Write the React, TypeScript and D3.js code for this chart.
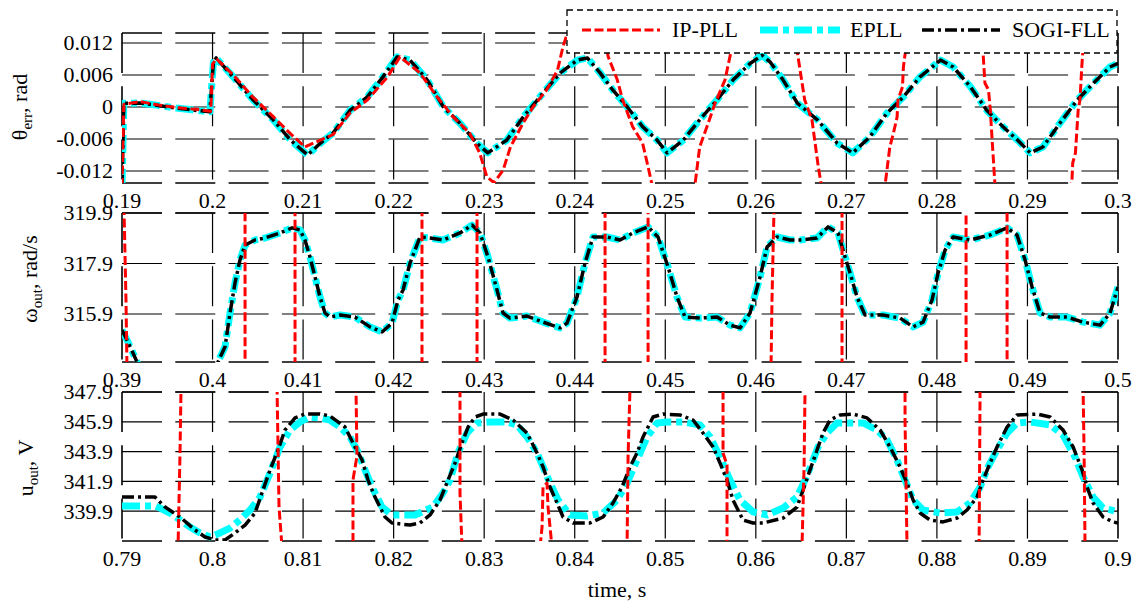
import React, { useEffect, useRef } from 'react';
import * as d3 from 'd3';

type Pt = [number, number];

const W = 1135;
const H = 606;
const FONT = "'Liberation Serif', 'DejaVu Serif', serif";

// ---- panel 1: phase error, rad (t = 0.19 .. 0.3 s)
const xTicks1 = [0.19, 0.2, 0.21, 0.22, 0.23, 0.24, 0.25, 0.26, 0.27, 0.28, 0.29, 0.3];
const xLabels1 = ['0.19', '0.2', '0.21', '0.22', '0.23', '0.24', '0.25', '0.26', '0.27', '0.28', '0.29', '0.3'];
const yTicks1 = [-0.012, -0.006, 0, 0.006, 0.012];
const yLabels1 = ['-0.012', '-0.006', '0', '0.006', '0.012'];

const epllTheta: Pt[] = [
  [0.19, -0.015], [0.1902, 0.0007], [0.192, 0.00075], [0.194, 0.0003], [0.196, -0.0002], [0.198, -0.0006],
  [0.1997, -0.0009], [0.19995, 0.005], [0.2001, 0.0084], [0.2004, 0.0092], [0.2023, 0.0056], [0.2045, 0.0013],
  [0.2067, -0.0024], [0.2086, -0.0062], [0.2105, -0.009], [0.2119, -0.0068], [0.2133, -0.0049], [0.2152, -0.0006],
  [0.2171, 0.0019], [0.2188, 0.0056], [0.2204, 0.0094], [0.2218, 0.0088], [0.2237, 0.0051], [0.2255, 0.0],
  [0.2273, -0.003], [0.2292, -0.0068], [0.2304, -0.0086], [0.2325, -0.0062], [0.2343, -0.0019], [0.2365, 0.0026],
  [0.2384, 0.0064], [0.2403, 0.0088], [0.2414, 0.0092], [0.2428, 0.0064], [0.2442, 0.0032], [0.2458, 0.0],
  [0.2475, -0.0037], [0.2491, -0.0062], [0.2502, -0.0086], [0.252, -0.0062], [0.2538, -0.0024], [0.2557, 0.0013],
  [0.2575, 0.0051], [0.2594, 0.0082], [0.2607, 0.0097], [0.2616, 0.0084], [0.263, 0.0051], [0.2646, 0.0007],
  [0.2668, -0.0024], [0.269, -0.0068], [0.2707, -0.0086], [0.2726, -0.0056], [0.2745, -0.0011], [0.2763, 0.0019],
  [0.2781, 0.0056], [0.2804, 0.0088], [0.2818, 0.0075], [0.2837, 0.0038], [0.2855, -0.0006], [0.2873, -0.0037],
  [0.2889, -0.0062], [0.2903, -0.0086], [0.2917, -0.0075], [0.2936, -0.003], [0.2955, 0.0013], [0.2973, 0.0045],
  [0.2991, 0.0075], [0.3, 0.0082],
];
// SOGI-FLL sits on top of the EPLL trace in this panel
const sogiTheta: Pt[] = epllTheta;

const ipTheta: Pt[] = [
  [0.19, -0.015], [0.1902, 0.0005], [0.192, 0.001], [0.194, 0.0004], [0.196, -0.0001], [0.198, -0.0004],
  [0.1998, -0.0008], [0.2, 0.008], [0.2004, 0.0091], [0.2023, 0.006], [0.2045, 0.0018], [0.2067, -0.0018],
  [0.2086, -0.005], [0.2102, -0.0075], [0.2119, -0.0062], [0.2133, -0.0052], [0.2152, -0.0011], [0.2171, 0.0013],
  [0.2193, 0.0056], [0.2207, 0.0094], [0.2229, 0.0064], [0.2248, 0.0019], [0.2266, -0.0019], [0.2284, -0.0049],
  [0.2295, -0.0086], [0.2303, -0.0131], [0.2311, -0.0142], [0.2321, -0.0118], [0.2329, -0.0075], [0.2343, -0.003],
  [0.2354, 0.0], [0.2369, 0.0032], [0.2381, 0.0069], [0.2387, 0.0113], [0.2392, 0.0139], [0.2413, 0.022],
  [0.2432, 0.0139], [0.2437, 0.0094], [0.2447, 0.0051], [0.2453, 0.0013], [0.2464, -0.0037], [0.2475, -0.0068],
  [0.2481, -0.0112], [0.2485, -0.0143], [0.2508, -0.021], [0.2533, -0.0143], [0.2538, -0.0075], [0.2546, -0.0037],
  [0.2555, 0.0007], [0.2566, 0.0051], [0.2573, 0.0107], [0.2576, 0.0139], [0.2611, 0.022], [0.2644, 0.0139],
  [0.2646, 0.0101], [0.2654, 0.0013], [0.2662, -0.0024], [0.2665, -0.0062], [0.2669, -0.0112], [0.2672, -0.0143],
  [0.2707, -0.021], [0.2743, -0.0143], [0.2748, -0.0075], [0.2752, -0.0049], [0.2756, -0.0019], [0.2757, 0.0013],
  [0.2762, 0.0038], [0.2763, 0.0075], [0.2765, 0.0101], [0.2767, 0.0139], [0.2808, 0.022], [0.2849, 0.0139],
  [0.2851, 0.0101], [0.2853, 0.0045], [0.2857, 0.0032], [0.2859, -0.0006], [0.2861, -0.0062], [0.2864, -0.0143],
  [0.2906, -0.021], [0.2949, -0.0143], [0.295, -0.0105], [0.2953, -0.0086], [0.2956, -0.0006], [0.2958, 0.0013],
  [0.296, 0.0075], [0.2961, 0.0101], [0.2963, 0.0139], [0.3, 0.022],
];

// ---- panel 2: output frequency, rad/s (t = 0.39 .. 0.5 s)
const xTicks2 = [0.39, 0.4, 0.41, 0.42, 0.43, 0.44, 0.45, 0.46, 0.47, 0.48, 0.49, 0.5];
const xLabels2 = ['0.39', '0.4', '0.41', '0.42', '0.43', '0.44', '0.45', '0.46', '0.47', '0.48', '0.49', '0.5'];
const yTicks2 = [315.9, 317.9, 319.9];
const yLabels2 = ['315.9', '317.9', '319.9'];

const epllOmega: Pt[] = [
  [0.39, 315.27], [0.39055, 314.87], [0.39121, 314.36], [0.39166, 314.0], [0.39199, 313.6], [0.40038, 313.6],
  [0.4006, 314.0], [0.40138, 314.6], [0.40193, 315.94], [0.40248, 317.13], [0.40303, 318.04], [0.40359, 318.63],
  [0.40469, 318.83], [0.4058, 318.91], [0.40745, 319.11], [0.40878, 319.31], [0.40966, 319.23], [0.41021, 318.83],
  [0.41076, 318.16], [0.41132, 317.37], [0.41187, 316.57], [0.41242, 315.94], [0.41297, 315.78], [0.41408, 315.86],
  [0.41573, 315.78], [0.41739, 315.39], [0.41872, 315.19], [0.41982, 315.54], [0.42048, 316.45], [0.42104, 316.85],
  [0.42181, 317.92], [0.42291, 318.95], [0.42402, 318.91], [0.42545, 318.83], [0.42733, 319.11], [0.42866, 319.42],
  [0.42954, 319.11], [0.43042, 318.16], [0.43142, 316.85], [0.43208, 315.94], [0.43285, 315.74], [0.43473, 315.82],
  [0.4365, 315.58], [0.43838, 315.35], [0.43915, 315.54], [0.44025, 316.57], [0.44114, 317.92], [0.44202, 318.95],
  [0.44357, 318.95], [0.445, 318.83], [0.44644, 319.11], [0.4481, 319.35], [0.4492, 318.95], [0.45031, 317.76],
  [0.4513, 316.57], [0.45218, 315.78], [0.45384, 315.74], [0.45572, 315.78], [0.45715, 315.46], [0.45826, 315.35],
  [0.45936, 315.94], [0.46047, 317.37], [0.46124, 318.55], [0.46234, 318.95], [0.46378, 318.83], [0.46489, 318.83],
  [0.46676, 318.91], [0.46798, 319.35], [0.46908, 319.11], [0.46986, 318.16], [0.47041, 317.52], [0.47118, 316.57],
  [0.47206, 315.86], [0.47405, 315.86], [0.47593, 315.74], [0.47737, 315.39], [0.47847, 315.58], [0.47946, 316.45],
  [0.48013, 317.52], [0.4809, 318.43], [0.48178, 318.95], [0.48366, 318.83], [0.48587, 319.03], [0.48775, 319.31],
  [0.48885, 319.03], [0.48974, 318.04], [0.49051, 316.97], [0.4914, 315.94], [0.4925, 315.78], [0.49437, 315.78],
  [0.49614, 315.58], [0.49802, 315.46], [0.49912, 315.94], [0.5, 316.97],
];
const sogiOmega: Pt[] = epllOmega;

// IP-PLL swings far outside the window: only its near-vertical crossings show
const ipOmega: Pt[] = [
  [0.39, 320.1], [0.39022, 320.1], [0.39044, 316.45], [0.39055, 313.8], [0.40359, 313.8], [0.40359, 320.1],
  [0.40911, 320.1], [0.40911, 313.8], [0.42313, 313.8], [0.42313, 320.1], [0.42921, 320.1], [0.42921, 313.8],
  [0.44335, 313.8], [0.44335, 320.1], [0.4481, 320.1], [0.4481, 313.8], [0.46168, 313.8], [0.46179, 316.5],
  [0.46201, 320.1], [0.46952, 320.1], [0.46952, 313.8], [0.48322, 313.8], [0.48322, 320.1], [0.48775, 320.1],
  [0.48775, 313.8], [0.5, 313.8],
];

// ---- panel 3: output voltage, V (t = 0.79 .. 0.9 s)
const xTicks3 = [0.79, 0.8, 0.81, 0.82, 0.83, 0.84, 0.85, 0.86, 0.87, 0.88, 0.89, 0.9];
const xLabels3 = ['0.79', '0.8', '0.81', '0.82', '0.83', '0.84', '0.85', '0.86', '0.87', '0.88', '0.89', '0.9'];
const yTicks3 = [339.9, 341.9, 343.9, 345.9, 347.9];
const yLabels3 = ['339.9', '341.9', '343.9', '345.9', '347.9'];

const epllU: Pt[] = [
  [0.79, 340.25], [0.79364, 340.25], [0.7942, 340.11], [0.7953, 339.78], [0.79641, 339.31], [0.79751, 338.84],
  [0.79862, 338.44], [0.79972, 338.17], [0.80082, 338.44], [0.80193, 338.77], [0.80303, 339.31], [0.80414, 339.98],
  [0.80524, 340.85], [0.80635, 342.46], [0.8069, 343.34], [0.80745, 344.21], [0.80856, 345.35], [0.80966, 345.89],
  [0.81076, 346.22], [0.81187, 346.16], [0.81297, 346.02], [0.81408, 345.55], [0.81518, 344.88], [0.81596, 344.01],
  [0.81684, 342.67], [0.81761, 341.52], [0.81872, 340.18], [0.81982, 339.65], [0.82236, 339.65], [0.82435, 340.18],
  [0.82545, 341.12], [0.82623, 341.99], [0.82711, 343.81], [0.8281, 345.15], [0.82921, 345.82], [0.83065, 345.89],
  [0.83252, 345.89], [0.83363, 345.69], [0.83473, 344.88], [0.83584, 343.81], [0.8365, 342.87], [0.83727, 341.79],
  [0.83816, 340.65], [0.83948, 339.65], [0.84136, 339.58], [0.84313, 339.78], [0.84467, 340.65], [0.84578, 341.79],
  [0.84688, 343.34], [0.84799, 344.88], [0.84909, 345.82], [0.8502, 345.89], [0.85196, 345.89], [0.85384, 345.69],
  [0.85494, 344.88], [0.85605, 343.54], [0.85715, 341.99], [0.85826, 340.65], [0.85969, 339.85], [0.86124, 339.65],
  [0.86301, 340.11], [0.86455, 340.85], [0.86544, 341.99], [0.86621, 343.13], [0.86687, 344.21], [0.86787, 345.15],
  [0.86897, 345.82], [0.87041, 345.82], [0.87184, 345.82], [0.87339, 345.35], [0.87449, 344.68], [0.8756, 343.34],
  [0.87648, 341.99], [0.87737, 340.65], [0.87847, 339.98], [0.88035, 339.78], [0.88222, 339.85], [0.88366, 340.45],
  [0.88477, 341.52], [0.88565, 342.87], [0.88664, 344.01], [0.88775, 345.15], [0.88885, 345.82], [0.89029, 345.89],
  [0.8925, 345.69], [0.89393, 345.01], [0.89526, 343.54], [0.89614, 342.2], [0.89725, 340.85], [0.89835, 340.11],
  [0.9, 339.85],
];

const sogiU: Pt[] = [
  [0.79, 340.85], [0.79364, 340.85], [0.79475, 340.18], [0.79641, 339.51], [0.79806, 338.64], [0.79917, 338.17],
  [0.80027, 337.97], [0.80138, 337.97], [0.80248, 338.44], [0.80359, 338.97], [0.80469, 339.78], [0.80557, 341.32],
  [0.80635, 342.67], [0.80723, 344.01], [0.808, 345.35], [0.80911, 346.16], [0.81021, 346.42], [0.81187, 346.42],
  [0.81297, 346.29], [0.81463, 345.55], [0.81573, 344.21], [0.81651, 343.34], [0.81717, 341.99], [0.81794, 340.85],
  [0.81905, 339.51], [0.81982, 339.11], [0.82181, 338.97], [0.82291, 339.11], [0.82402, 339.65], [0.82512, 340.65],
  [0.82601, 341.99], [0.82678, 343.13], [0.82755, 344.48], [0.82822, 345.55], [0.82899, 346.22], [0.82987, 346.42],
  [0.83175, 346.42], [0.83319, 346.02], [0.83473, 345.15], [0.83584, 343.81], [0.8365, 342.87], [0.83727, 341.52],
  [0.83805, 340.45], [0.83871, 339.51], [0.83981, 339.11], [0.84169, 339.11], [0.84313, 339.51], [0.84423, 340.45],
  [0.84522, 341.52], [0.84611, 342.87], [0.84688, 343.81], [0.84754, 344.88], [0.84865, 346.22], [0.84975, 346.42],
  [0.85163, 346.36], [0.85307, 346.02], [0.85417, 345.15], [0.85528, 344.21], [0.85605, 343.13], [0.85682, 341.99],
  [0.85748, 340.65], [0.85859, 339.31], [0.85969, 339.11], [0.8608, 339.11], [0.86301, 339.44], [0.86455, 340.18],
  [0.86522, 341.32], [0.86599, 342.67], [0.86676, 344.01], [0.86742, 345.15], [0.8682, 346.02], [0.8693, 346.36],
  [0.87074, 346.42], [0.87228, 346.16], [0.87372, 345.35], [0.87482, 344.21], [0.87593, 342.87], [0.8767, 341.79],
  [0.87737, 340.65], [0.87814, 339.78], [0.87924, 339.31], [0.88068, 339.18], [0.88222, 339.44], [0.88333, 339.98],
  [0.88443, 340.85], [0.8851, 341.99], [0.88587, 343.13], [0.88664, 344.21], [0.88775, 345.55], [0.88885, 346.36],
  [0.89106, 346.42], [0.8925, 346.22], [0.89393, 345.35], [0.89504, 344.21], [0.89603, 342.67], [0.89658, 341.52],
  [0.89725, 340.45], [0.89835, 339.51], [0.89945, 339.18], [0.9, 339.11],
];

const ipU: Pt[] = [
  [0.79, 337.5], [0.79619, 337.5], [0.79641, 343.9], [0.79652, 348.3], [0.80712, 348.3], [0.80734, 340.2],
  [0.80767, 337.5], [0.81551, 337.5], [0.81551, 342.0], [0.81595, 343.6], [0.81584, 348.3], [0.82733, 348.3],
  [0.82733, 341.1], [0.82755, 337.5], [0.83617, 337.5], [0.83639, 338.84], [0.8365, 341.52], [0.83694, 341.79],
  [0.83705, 340.18], [0.83749, 337.5], [0.84578, 337.5], [0.84589, 343.5], [0.84611, 348.3], [0.85638, 348.3],
  [0.85638, 343.8], [0.85682, 343.0], [0.85682, 337.5], [0.8651, 337.5], [0.86533, 342.9], [0.86544, 348.3],
  [0.87648, 348.3], [0.87648, 346.0], [0.8767, 337.5], [0.88466, 337.5], [0.88477, 348.3], [0.89614, 348.3],
  [0.89625, 344.0], [0.89636, 337.5], [0.9, 337.5],
];

const seriesNames = ['IP-PLL', 'EPLL', 'SOGI-FLL'];

const styles = {
  ip: { color: '#ff0000', width: 3, dash: '9,3.5' },
  epll: { color: '#00ffff', width: 7, dash: '18,5,6,5' },
  sogi: { color: '#000000', width: 3.5, dash: '12,4,3,4' },
};

const panels = [
  {
    xDomain: [0.19, 0.3], yDomain: [-0.01425, 0.013875], top: 33, bottom: 183,
    xTicks: xTicks1, xLabels: xLabels1, yTicks: yTicks1, yLabels: yLabels1,
    ip: ipTheta, epll: epllTheta, sogi: sogiTheta,
    label: ['θ', 'err', ', rad'], labelX: 27, labelY: 107,
  },
  {
    xDomain: [0.39, 0.5], yDomain: [314.0, 319.9], top: 213, bottom: 362,
    xTicks: xTicks2, xLabels: xLabels2, yTicks: yTicks2, yLabels: yLabels2,
    ip: ipOmega, epll: epllOmega, sogi: sogiOmega,
    label: ['ω', 'out', ', rad/s'], labelX: 37, labelY: 279,
  },
  {
    xDomain: [0.79, 0.9], yDomain: [337.9, 347.9], top: 392, bottom: 541,
    xTicks: xTicks3, xLabels: xLabels3, yTicks: yTicks3, yLabels: yLabels3,
    ip: ipU, epll: epllU, sogi: sogiU,
    label: ['u', 'out', ', V'], labelX: 33, labelY: 468,
  },
];

export default function App() {
  const svgRef = useRef<SVGSVGElement>(null);

  useEffect(() => {
    if (!svgRef.current) return;
    const svg = d3.select(svgRef.current);
    svg.selectAll('*').remove();

    svg.append('rect').attr('width', W).attr('height', H).attr('fill', '#fff');
    const defs = svg.append('defs');

    const left = 122;
    const right = 1118;
    const gridDash = '40,13.3';

    panels.forEach((p, i) => {
      const x = d3.scaleLinear().domain(p.xDomain).range([left, right]);
      const y = d3.scaleLinear().domain(p.yDomain).range([p.bottom, p.top]);
      const g = svg.append('g');

      defs.append('clipPath').attr('id', `clip-${i}`)
        .append('rect')
        .attr('x', left).attr('y', p.top)
        .attr('width', right - left).attr('height', p.bottom - p.top);

      // grid (dashed black, matlab style)
      g.selectAll('.hgrid').data(p.yTicks).join('line')
        .attr('x1', left).attr('x2', right)
        .attr('y1', (d) => y(d)).attr('y2', (d) => y(d))
        .attr('stroke', '#000').attr('stroke-width', 1.2)
        .attr('stroke-dasharray', gridDash);
      g.selectAll('.vgrid').data(p.xTicks.slice(1, -1)).join('line')
        .attr('x1', (d) => x(d)).attr('x2', (d) => x(d))
        .attr('y1', p.top).attr('y2', p.bottom)
        .attr('stroke', '#000').attr('stroke-width', 1.2)
        .attr('stroke-dasharray', gridDash);

      // axes box
      const box: [number, number, number, number][] = [
        [left, p.top, right, p.top],
        [left, p.bottom, right, p.bottom],
        [left, p.top, left, p.bottom],
        [right, p.top, right, p.bottom],
      ];
      g.selectAll('.box').data(box).join('line')
        .attr('x1', (d) => d[0]).attr('y1', (d) => d[1])
        .attr('x2', (d) => d[2]).attr('y2', (d) => d[3])
        .attr('stroke', '#000').attr('stroke-width', 1.6)
        .attr('stroke-dasharray', gridDash);

      // traces
      const line = d3.line<Pt>().x((d) => x(d[0])).y((d) => y(d[1]));
      const traces = g.append('g').attr('clip-path', `url(#clip-${i})`);
      (['epll', 'sogi', 'ip'] as const).forEach((k) => {
        const s = styles[k];
        traces.append('path')
          .datum(p[k])
          .attr('d', line)
          .attr('fill', 'none')
          .attr('stroke', s.color)
          .attr('stroke-width', s.width)
          .attr('stroke-dasharray', s.dash)
          .attr('stroke-linejoin', 'round');
      });
    });

    // tick labels and axis titles drawn after all panels so overlaps read as in the figure
    panels.forEach((p) => {
      const x = d3.scaleLinear().domain(p.xDomain).range([left, right]);
      const y = d3.scaleLinear().domain(p.yDomain).range([p.bottom, p.top]);
      const g = svg.append('g').style('font-family', FONT).style('font-size', '22px').attr('fill', '#000');

      g.selectAll('.xl').data(p.xTicks).join('text')
        .attr('x', (d) => x(d)).attr('y', p.bottom + 25)
        .attr('text-anchor', 'middle')
        .text((d, j) => p.xLabels[j]);

      g.selectAll('.yl').data(p.yTicks).join('text')
        .attr('x', 113).attr('y', (d) => y(d)).attr('dy', '0.34em')
        .attr('text-anchor', 'end')
        .text((d, j) => p.yLabels[j]);

      const t = g.append('text')
        .attr('transform', `translate(${p.labelX},${p.labelY}) rotate(-90)`)
        .attr('text-anchor', 'middle');
      t.append('tspan').text(p.label[0]);
      t.append('tspan').style('font-size', '15px').attr('dy', 5).text(p.label[1]);
      t.append('tspan').attr('dy', -5).text(p.label[2]);
    });

    svg.append('text')
      .attr('x', 617).attr('y', 597)
      .attr('text-anchor', 'middle')
      .style('font-family', FONT).style('font-size', '22px')
      .text('time, s');

    // legend
    const lg = svg.append('g');
    lg.append('rect')
      .attr('x', 567).attr('y', 10).attr('width', 550).attr('height', 43)
      .attr('fill', '#fff').attr('stroke', '#000').attr('stroke-width', 1.3)
      .attr('stroke-dasharray', '6,4');
    const legendItems = [
      { key: 'ip' as const, x1: 582, x2: 660, tx: 672 },
      { key: 'epll' as const, x1: 760, x2: 840, tx: 850 },
      { key: 'sogi' as const, x1: 922, x2: 1000, tx: 1012 },
    ];
    legendItems.forEach((it, j) => {
      const s = styles[it.key];
      lg.append('line')
        .attr('x1', it.x1).attr('x2', it.x2).attr('y1', 30).attr('y2', 30)
        .attr('stroke', s.color).attr('stroke-width', s.width)
        .attr('stroke-dasharray', s.dash);
      lg.append('text')
        .attr('x', it.tx).attr('y', 37)
        .style('font-family', FONT).style('font-size', '22px')
        .text(seriesNames[j]);
    });
  }, []);

  return (
    <svg
      ref={svgRef}
      width={W}
      height={H}
      style={{ position: 'absolute', left: 0, top: 0, display: 'block' }}
    />
  );
}
